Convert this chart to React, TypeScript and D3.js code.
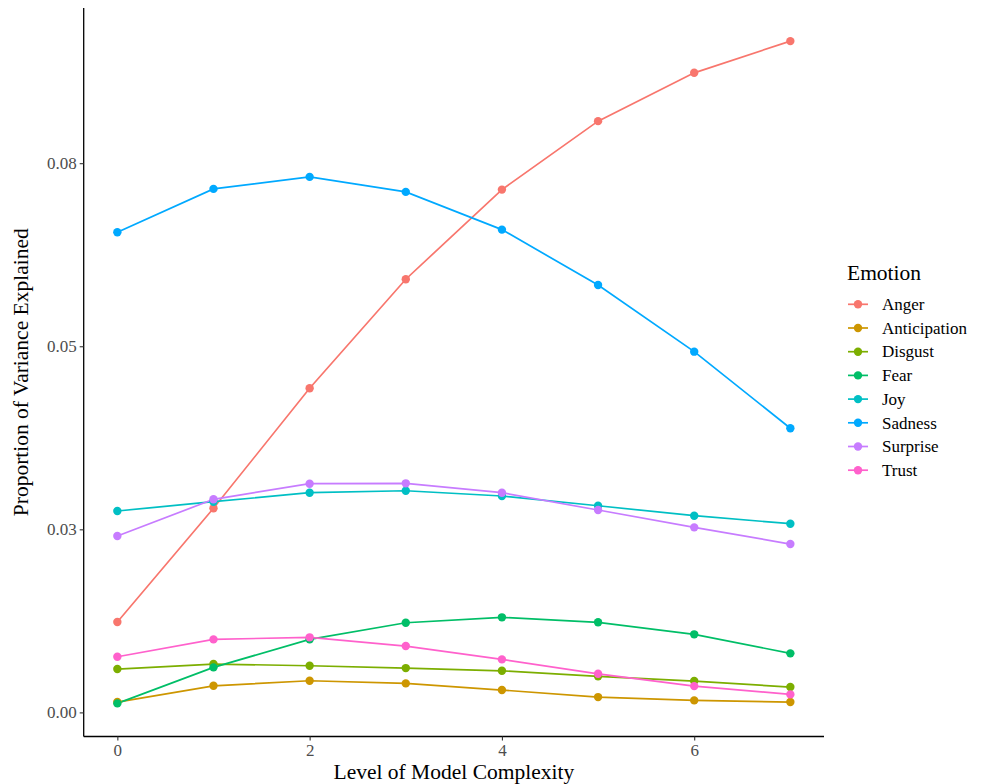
import React, { useEffect, useRef } from "react";
import * as d3 from "d3";

const levels = [0, 1, 2, 3, 4, 5, 6, 7];
const emotions = ["Anger", "Anticipation", "Disgust", "Fear", "Joy", "Sadness", "Surprise", "Trust"];
const colors = ["#F8766D", "#CD9600", "#7CAE00", "#00BE67", "#00BFC4", "#00A9FF", "#C77CFF", "#FF61CC"];

const anger = [0.01234, 0.02787, 0.04426, 0.05915, 0.07139, 0.08074, 0.08734, 0.09167];
const anticipation = [0.00141, 0.00363, 0.00432, 0.00396, 0.00305, 0.00209, 0.00164, 0.00141];
const disgust = [0.00592, 0.0066, 0.00637, 0.00605, 0.00568, 0.00492, 0.00428, 0.00346];
const fear = [0.00123, 0.00615, 0.00997, 0.01224, 0.01298, 0.0123, 0.01066, 0.00806];
const joy = [0.0275, 0.02877, 0.03, 0.03027, 0.02955, 0.02822, 0.02686, 0.02577];
const sadness = [0.06557, 0.07149, 0.07313, 0.07108, 0.06593, 0.05837, 0.04926, 0.0388];
const surprise = [0.02408, 0.0291, 0.03123, 0.03128, 0.03, 0.02764, 0.02527, 0.02299];
const trust = [0.0076, 0.00997, 0.01025, 0.00906, 0.00724, 0.00527, 0.00359, 0.00246];

const seriesValues = [anger, anticipation, disgust, fear, joy, sadness, surprise, trust];

const yTickValues = [0, 0.025, 0.05, 0.075];
const yTickLabels = ["0.00", "0.03", "0.05", "0.08"];
const xTickValues = [0, 2, 4, 6];
const xTickLabels = ["0", "2", "4", "6"];

const FONT = "'Liberation Serif', 'Times New Roman', 'DejaVu Serif', serif";

export default function App() {
  const xAxisRef = useRef<SVGGElement>(null);
  const yAxisRef = useRef<SVGGElement>(null);

  const W = 986, H = 784;
  const left = 83.7, right = 824, top = 8, bottom = 736.5;

  const xExt = d3.extent(levels) as [number, number];
  const xPad = (xExt[1] - xExt[0]) * 0.05;
  const x = d3.scaleLinear().domain([xExt[0] - xPad, xExt[1] + xPad]).range([left, right]);

  const allVals = seriesValues.flat();
  const yExt = d3.extent(allVals) as [number, number];
  const yPad = (yExt[1] - yExt[0]) * 0.05;
  const y = d3.scaleLinear().domain([yExt[0] - yPad, yExt[1] + yPad]).range([bottom, top]);

  const line = d3.line<number>().x((_, i) => x(levels[i])).y((d) => y(d));

  useEffect(() => {
    const xa = d3.axisBottom(x).tickValues(xTickValues).tickSize(4).tickPadding(3)
      .tickFormat((_, i) => xTickLabels[i]);
    const ya = d3.axisLeft(y).tickValues(yTickValues).tickSize(4).tickPadding(3)
      .tickFormat((_, i) => yTickLabels[i]);
    const gx = d3.select(xAxisRef.current!);
    gx.call(xa as any);
    const gy = d3.select(yAxisRef.current!);
    gy.call(ya as any);
    [gx, gy].forEach((g) => {
      g.select(".domain").remove();
      g.selectAll(".tick line").attr("stroke", "#333333").attr("stroke-width", 1.1);
      g.selectAll(".tick text").attr("fill", "#4D4D4D").style("font-family", FONT).style("font-size", "17px");
    });
  }, []);

  return (
    <svg width={W} height={H} style={{ position: "absolute", left: 0, top: 0, background: "#fff" }}
      fontFamily={FONT}>
      <rect x={0} y={0} width={W} height={H} fill="#ffffff" />
      {seriesValues.map((vals, si) => (
        <path key={"l" + si} d={line(vals) || ""} fill="none" stroke={colors[si]} strokeWidth={1.7} />
      ))}
      {seriesValues.map((vals, si) => (
        <g key={"p" + si}>
          {vals.map((v, i) => (
            <circle key={i} cx={x(levels[i])} cy={y(v)} r={4.2} fill={colors[si]} />
          ))}
        </g>
      ))}
      <line x1={left} x2={left} y1={top} y2={bottom} stroke="#000" strokeWidth={1.3} />
      <line x1={left} x2={right} y1={bottom} y2={bottom} stroke="#000" strokeWidth={1.3} />
      <g ref={xAxisRef} transform={`translate(0,${bottom})`} />
      <g ref={yAxisRef} transform={`translate(${left},0)`} />
      <text x={(left + right) / 2} y={779} textAnchor="middle" fontSize={21.5} fill="#000">
        Level of Model Complexity
      </text>
      <text transform={`translate(28,${(top + bottom) / 2}) rotate(-90)`} textAnchor="middle" fontSize={21.5} fill="#000">
        Proportion of Variance Explained
      </text>
      <text x={847} y={280} fontSize={21.5} fill="#000">Emotion</text>
      {emotions.map((e, i) => {
        const cy = 304.3 + i * 23.7;
        return (
          <g key={e}>
            <line x1={848} x2={868} y1={cy} y2={cy} stroke={colors[i]} strokeWidth={1.7} />
            <circle cx={858} cy={cy} r={4.2} fill={colors[i]} />
            <text x={882} y={cy} dy="0.34em" fontSize={17} fill="#000">{e}</text>
          </g>
        );
      })}
    </svg>
  );
}
